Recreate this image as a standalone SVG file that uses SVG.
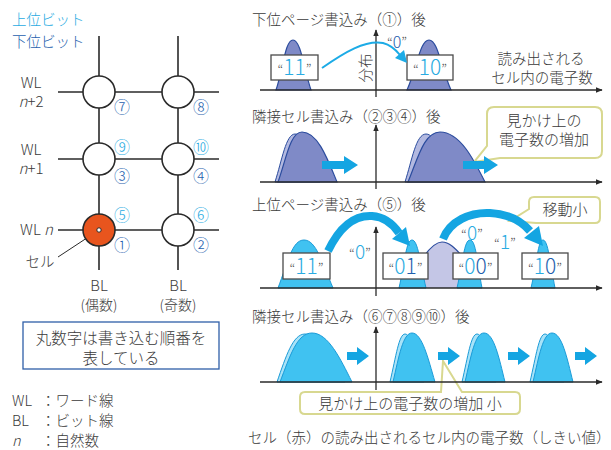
<svg xmlns="http://www.w3.org/2000/svg" width="611" height="450" viewBox="0 0 611 450">
<defs>
<style>
text{font-family:"Noto Sans CJK JP","Noto Sans",sans-serif;fill:#3a3a3a;font-weight:300;}
.t{font-size:14.5px;}
.lb{fill:#29abe2;}
.db{fill:#1f5fae;}
.num{font-size:16px;text-anchor:middle;}
.grid{stroke:#2a2a2a;stroke-width:1.6;fill:none;}
.cell{fill:#fff;stroke:#2a2a2a;stroke-width:1.6;}
.axis{stroke:#2a2a2a;stroke-width:1.3;fill:none;}
.pk{fill:#7f8ac7;stroke:#2b4c9e;stroke-width:1.2;}
.pkg{fill:#b3b9e0;stroke:#2b4c9e;stroke-width:1;}
.lpk{fill:#40c2f1;stroke:#1a9bd8;stroke-width:1;}
.lpkg{fill:#a9e3f8;stroke:#1a9bd8;stroke-width:1;}
.lab{fill:#fff;stroke:#4a4a4a;stroke-width:1.3;}
.q{font-size:14px;fill:#555;}
.dg{font-size:21px;}
.blk{fill:#14a5e2;}
.call{fill:#fff;stroke:#d8d890;stroke-width:2;}
.ctr{text-anchor:middle;}
</style>
<marker id="ah" viewBox="0 0 10 10" refX="9" refY="5" markerWidth="7" markerHeight="7" orient="auto" markerUnits="userSpaceOnUse"><path d="M0,1 L10,5 L0,9 Z" fill="#2a2a2a"/></marker>
</defs>

<g id="bit-legend">
<text class="t lb" x="12" y="25">上位ビット</text>
<text class="t db" x="12" y="47">下位ビット</text>
</g>

<g id="grid-lines">
<line class="grid" x1="99" y1="36" x2="99" y2="270"/>
<line class="grid" x1="178" y1="36" x2="178" y2="270"/>
<line class="grid" x1="58" y1="92" x2="219" y2="92"/>
<line class="grid" x1="58" y1="159" x2="219" y2="159"/>
<line class="grid" x1="58" y1="230" x2="219" y2="230"/>
<line x1="58" y1="257" x2="99" y2="230" stroke="#2a2a2a" stroke-width="1"/>
</g>

<g id="cell-7-8">
<circle class="cell" cx="99" cy="92" r="16"/>
<circle class="cell" cx="178" cy="92" r="16"/>
<text class="num db" x="122" y="113">⑦</text>
<text class="num db" x="201" y="113">⑧</text>
</g>
<g id="cell-3-4">
<circle class="cell" cx="99" cy="159" r="16"/>
<circle class="cell" cx="178" cy="159" r="16"/>
<text class="num lb" x="122" y="153">⑨</text>
<text class="num lb" x="201" y="153">⑩</text>
<text class="num db" x="122" y="182">③</text>
<text class="num db" x="201" y="182">④</text>
</g>
<g id="cell-red">
<circle cx="99" cy="230" r="16" fill="#e8551e" stroke="#2a2a2a" stroke-width="1.6"/>
<circle cx="99" cy="230" r="2.2" fill="#fff" stroke="#2a2a2a" stroke-width="1"/>
<text class="num lb" x="122" y="221">⑤</text>
<text class="num db" x="122" y="251">①</text>
</g>
<g id="cell-2-6">
<circle class="cell" cx="178" cy="230" r="16"/>
<text class="num lb" x="201" y="221">⑥</text>
<text class="num db" x="201" y="251">②</text>
</g>

<g id="grid-labels">
<text x="31" y="88" class="ctr" font-size="15">WL</text>
<text x="31" y="107" class="ctr" font-size="15"><tspan font-style="italic">n</tspan>+2</text>
<text x="31" y="155" class="ctr" font-size="15">WL</text>
<text x="31" y="174" class="ctr" font-size="15"><tspan font-style="italic">n</tspan>+1</text>
<text x="53" y="235" text-anchor="end" font-size="15">WL <tspan font-style="italic">n</tspan></text>
<text x="40" y="267" class="ctr" font-size="14.5">セル</text>
<text x="99" y="291" class="ctr" font-size="15">BL</text>
<text x="99" y="310" class="ctr" font-size="14">(偶数)</text>
<text x="178" y="291" class="ctr" font-size="15">BL</text>
<text x="178" y="310" class="ctr" font-size="14">(奇数)</text>
</g>

<g id="note-box">
<rect x="23" y="322" width="196" height="47" fill="#fff" stroke="#2f5fa8" stroke-width="1.3"/>
<text x="121" y="344" class="ctr" font-size="15.5">丸数字は書き込む順番を</text>
<text x="121" y="364" class="ctr" font-size="15.5">表している</text>
</g>

<g id="abbrev">
<text x="12" y="406" font-size="14.5">WL</text><text x="41" y="406" font-size="14.5">：ワード線</text>
<text x="12" y="426" font-size="14.5">BL</text><text x="41" y="426" font-size="14.5">：ビット線</text>
<text x="12" y="446" font-size="14.5" font-style="italic">n</text><text x="41" y="446" font-size="14.5">：自然数</text>
</g>

<g id="panel1">
<text class="t" x="252" y="25">下位ページ書込み（①）後</text>
<path class="pk" d="M276,90 C283,70 285,40 293,40 C301,40 304,70 311,90 Z"/>
<path class="pk" d="M407,90 C417,68 420,40 429,40 C438,40 441,68 451,90 Z"/>
<text x="364" y="68" font-size="14.5" transform="rotate(-90 364 68)" text-anchor="middle" dominant-baseline="central">分布</text>
<text class="t" x="541" y="64" text-anchor="middle" font-size="15">読み出される</text>
<text class="t" x="542" y="83" text-anchor="middle" font-size="15">セル内の電子数</text>
</g>

<g id="label-p1-11"><rect class="lab" x="271" y="55" width="47" height="25"/><text x="294.5" y="75" class="ctr"><tspan class="q">“</tspan><tspan class="dg lb">11</tspan><tspan class="q">”</tspan></text></g>
<g id="label-p1-10"><rect class="lab" x="407" y="55" width="46" height="25"/><text x="430" y="75" class="ctr"><tspan class="q">“</tspan><tspan class="dg lb">1</tspan><tspan class="dg lb">0</tspan><tspan class="q">”</tspan></text></g>
<text id="p1-0" x="397" y="48" class="ctr"><tspan class="q">“</tspan><tspan class="db" font-size="16">0</tspan><tspan class="q">”</tspan></text>

<g id="panel2">
<text class="t" x="252" y="122">隣接セル書込み（②③④）後</text>
<path class="pkg" d="M275,182 C282,160 286,134 295,134 C305,134 312,158 320,182 Z"/>
<path class="pk" d="M278,182 C286,160 290,132 302,132 C318,132 328,160 337,182 Z"/>
<path class="pkg" d="M405,182 C412,160 416,134 426,134 C436,134 442,158 450,182 Z"/>
<path class="pk" d="M408,182 C418,158 424,132 440,132 C460,132 474,160 485,182 Z"/>
</g>

<g id="callout-p2">
<path class="call" d="M494,107 H595 Q602,107 602,114 V151 Q602,158 595,158 H500 L474,162 L487,146 V114 Q487,107 494,107 Z"/>
<text x="544" y="126" class="ctr" font-size="15">見かけ上の</text>
<text x="544" y="145" class="ctr" font-size="15">電子数の増加</text>
</g>

<g id="panel3">
<text class="t" x="252" y="210">上位ページ書込み（⑤）後</text>
<path d="M424,288 L424,256 C430,248 436,242 442,242 C449,242 455,248 462,256 L462,288 Z" fill="#c4c6e6"/>
<path d="M424,256 C430,248 436,242 442,242 C449,242 455,248 462,256" fill="none" stroke="#2b4c9e" stroke-width="1.2"/>
<path class="lpk" d="M278,288 C288,262 292,240 304,240 C316,240 322,262 333,288 Z"/>
<path class="lpk" d="M399,288 C405,262 406,240 412,240 C418,240 420,262 426,288 Z"/>
<path class="lpk" d="M457,288 C463,262 464,240 470,240 C476,240 477,262 482,288 Z"/>
<path class="lpk" d="M531,288 C537,262 538,240 543,240 C548,240 550,262 555,288 Z"/>
</g>

<g id="label-p3-11"><rect class="lab" x="283" y="253" width="47" height="26"/><text x="306.5" y="274" class="ctr"><tspan class="q">“</tspan><tspan class="dg lb">11</tspan><tspan class="q">”</tspan></text></g>
<g id="label-p3-01"><rect class="lab" x="383" y="253" width="45" height="26"/><text x="405.5" y="274" class="ctr"><tspan class="q">“</tspan><tspan class="dg lb">0</tspan><tspan class="dg db">1</tspan><tspan class="q">”</tspan></text></g>
<g id="label-p3-00"><rect class="lab" x="453" y="253" width="45" height="26"/><text x="475.5" y="274" class="ctr"><tspan class="q">“</tspan><tspan class="dg lb">0</tspan><tspan class="dg db">0</tspan><tspan class="q">”</tspan></text></g>
<g id="label-p3-10"><rect class="lab" x="522" y="253" width="46" height="26"/><text x="545" y="274" class="ctr"><tspan class="q">“</tspan><tspan class="dg lb">1</tspan><tspan class="dg db">0</tspan><tspan class="q">”</tspan></text></g>
<text id="p3-0a" x="360" y="259" class="ctr"><tspan class="q">“</tspan><tspan class="lb" font-size="19">0</tspan><tspan class="q">”</tspan></text>
<text id="p3-0b" x="472" y="240" class="ctr"><tspan class="q">“</tspan><tspan class="lb" font-size="19">0</tspan><tspan class="q">”</tspan></text>
<text id="p3-1" x="505" y="249" class="ctr"><tspan class="q">“</tspan><tspan class="lb" font-size="19">1</tspan><tspan class="q">”</tspan></text>

<g id="callout-p3">
<path class="call" d="M534,197 H595 Q600,197 600,202 V218 Q600,223 595,223 H536 L510,221 L529,209 V202 Q529,197 534,197 Z"/>
<text x="565" y="215" class="ctr" font-size="15">移動小</text>
</g>

<g id="panel4">
<text class="t" x="252" y="322">隣接セル書込み（⑥⑦⑧⑨⑩）後</text>
<path class="lpkg" d="M277,382 C286,356 293,334 305,334 C318,334 330,358 345,382 Z"/>
<path class="lpk" d="M280,382 C290,356 297,333 312,333 C328,333 340,358 352,382 Z"/>
<path class="lpkg" d="M390,382 C396,356 399,334 405,334 C412,334 416,358 424,382 Z"/>
<path class="lpk" d="M393,382 C399,356 403,333 412,333 C422,333 428,358 435,382 Z"/>
<path class="lpkg" d="M462,382 C468,356 471,334 477,334 C484,334 488,358 496,382 Z"/>
<path class="lpk" d="M465,382 C471,356 475,333 484,333 C494,333 499,358 505,382 Z"/>
<path class="lpkg" d="M530,382 C536,356 539,334 545,334 C552,334 556,358 564,382 Z"/>
<path class="lpk" d="M533,382 C539,356 543,333 552,333 C562,333 567,358 573,382 Z"/>
</g>

<g id="callout-p4">
<path class="call" d="M305,392 H441 L443,361 L462,392 H515 Q520,392 520,397 V409 Q520,414 515,414 H305 Q300,414 300,409 V397 Q300,392 305,392 Z"/>
<text x="410" y="409" class="ctr" font-size="15">見かけ上の電子数の増加 小</text>
</g>

<text id="bottom-caption" class="t" x="248" y="443">セル（赤）の読み出されるセル内の電子数（しきい値）</text>

<g id="connectors">
<line class="axis" x1="260" y1="90" x2="602" y2="90" marker-end="url(#ah)"/>
<line class="axis" x1="376" y1="97" x2="376" y2="30" marker-end="url(#ah)"/>
<line class="axis" x1="260" y1="182" x2="602" y2="182" marker-end="url(#ah)"/>
<line class="axis" x1="376" y1="189" x2="376" y2="125" marker-end="url(#ah)"/>
<line class="axis" x1="260" y1="288" x2="602" y2="288" marker-end="url(#ah)"/>
<line class="axis" x1="376" y1="296" x2="376" y2="227" marker-end="url(#ah)"/>
<line class="axis" x1="260" y1="382" x2="602" y2="382" marker-end="url(#ah)"/>
<line class="axis" x1="376" y1="390" x2="376" y2="327" marker-end="url(#ah)"/>

<path d="M322,68 C345,52 365,40 383,43 C391,45 396,50 400,55" fill="none" stroke="#1cabe6" stroke-width="2"/>
<path d="M407,63 L395,58 L404,50 Z" fill="#1cabe6"/>

<path d="M328,251 C340,226 355,215 372,216 C385,217 393,224 399,233" fill="none" stroke="#14a5e2" stroke-width="8"/>
<path d="M410,246 L392,239 L406,227 Z" fill="#14a5e2"/>
<path d="M443,239 C450,221 470,212 490,213 C510,214 522,222 530,231" fill="none" stroke="#14a5e2" stroke-width="8"/>
<path d="M543,246 L524,238 L539,226 Z" fill="#14a5e2"/>

<path class="blk" d="M322,161 H344 V156 L358,165 L344,174 V169 H322 Z"/>
<path class="blk" d="M463,161 H484 V156 L498,165 L484,174 V169 H463 Z"/>
<path class="blk" d="M347,352 H357 V347 L369,356 L357,365 V360 H347 Z"/>
<path class="blk" d="M438,352 H448 V347 L460,356 L448,365 V360 H438 Z"/>
<path class="blk" d="M508,352 H518 V347 L530,356 L518,365 V360 H508 Z"/>
<path class="blk" d="M575,352 H585 V347 L597,356 L585,365 V360 H575 Z"/>
</g>
</svg>
